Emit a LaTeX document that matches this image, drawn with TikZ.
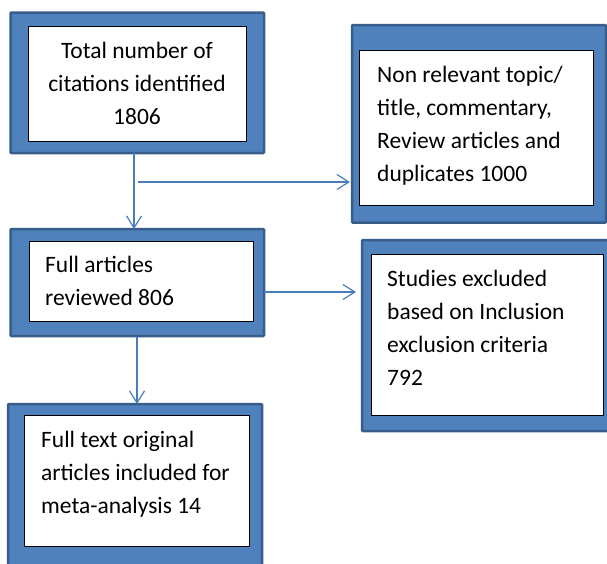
\documentclass[tikz,border=0pt]{standalone}
\usepackage{fontspec}
\setmainfont{Carlito}
\usetikzlibrary{arrows.meta}
\definecolor{boxblue}{HTML}{4F81BD}
\definecolor{boxdark}{HTML}{385D8A}
\definecolor{arrowblue}{HTML}{4A7EBB}
\begin{document}
\begin{tikzpicture}[x=1pt,y=-1pt,
  outerbox/.style={draw=boxdark,fill=boxblue,line width=2.5pt,rounded corners=1pt},
  innerbox/.style={draw=black,fill=white,line width=1pt},
  txt/.style={inner sep=0pt,anchor=base west,align=left,font=\fontsize{23.5}{33}\selectfont},
  ctxt/.style={inner sep=0pt,anchor=base,align=center,font=\fontsize{23.5}{33}\selectfont},
  flow/.style={draw=arrowblue,line width=1.2pt,-{Straight Barb[length=12pt,width=15pt,line width=1.2pt]}}]
\useasboundingbox (0,0) rectangle (607,563);
\begin{scope}
\clip (0,0) rectangle (607,563);
% box 1
\draw[outerbox] (10.5,12.5) rectangle (264,153);
\draw[innerbox] (28,26) rectangle (246.5,141.5);
\node[ctxt] (t1) at (137,124) {Total number of\\citations identified\\1806};
% box 3
\draw[outerbox] (352,25) rectangle (606,222.5);
\draw[innerbox] (359.5,50) rectangle (593,205);
\node[txt] (t3) at (377,181) {Non relevant topic/\\title, commentary,\\Review articles and\\duplicates 1000};
% box 2
\draw[outerbox] (10.5,229) rectangle (264,336);
\draw[innerbox] (29,241) rectangle (253,321);
\node[txt] (t2) at (45,305) {Full articles\\reviewed 806};
% box 4
\draw[outerbox] (362,240) rectangle (612,431);
\draw[innerbox] (371,254) rectangle (603,415);
\node[txt] (t4) at (387,385) {Studies excluded\\based on Inclusion\\exclusion criteria\\792};
% box 5
\draw[outerbox] (8,404) rectangle (262,580);
\draw[innerbox] (24,415) rectangle (249,546);
\node[txt] (t5) at (41,513) {Full text original\\articles included for\\meta-analysis 14};
\end{scope}
% named anchors for connectors
\coordinate (b1s) at (134,153);
\coordinate (b2n) at (134,229);
\coordinate (hs) at (138,182);
\coordinate (b3w) at (350,182);
\coordinate (b2e) at (264,292);
\coordinate (b4w) at (356,292);
\coordinate (b2s) at (137,337);
\coordinate (b5n) at (137,404);
\draw[flow] (b1s) -- (b2n);
\draw[flow] (hs) -- (b3w);
\draw[flow] (b2e) -- (b4w);
\draw[flow] (b2s) -- (b5n);
\end{tikzpicture}
\end{document}
